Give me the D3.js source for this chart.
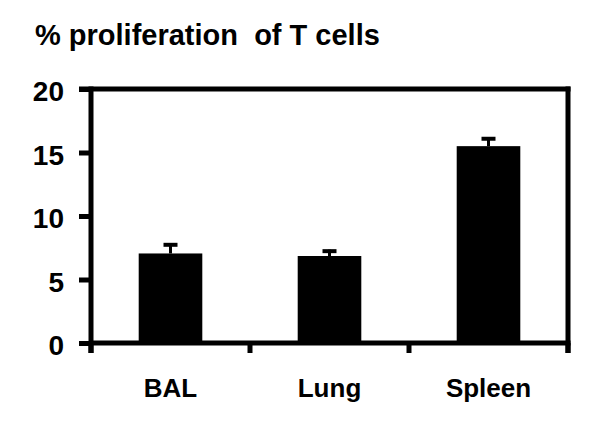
<!DOCTYPE html>
<html>
<head>
<meta charset="utf-8">
<script src="https://cdn.jsdelivr.net/npm/d3@7"></script>
<style>
  body { margin: 0; background: #fff; }
  text { font-family: "Liberation Sans", Arial, sans-serif; font-weight: bold; fill: #000; }
</style>
</head>
<body>
<script>

var width = 600,
  height = 424;

// data
var categories = ["BAL", "Lung", "Spleen"];
var means = [7.05, 6.85, 15.5];
var errors = [0.8, 0.5, 0.7];
var yTicks = [0, 5, 10, 15, 20];

// plot box (note: "top" is taken by window.top)
var plotLeft = 91, plotRight = 568, plotTop = 89, plotBottom = 343;

var svg = d3.select("body").append("svg")
  .attr("width", width)
  .attr("height", height);

var x = d3.scaleBand()
  .domain(categories)
  .range([plotLeft, plotRight])
  .paddingInner(0.6)
  .paddingOuter(0.3);

var y = d3.scaleLinear()
  .domain([0, 20])
  .range([plotBottom, plotTop]);

var lw = 5;

// bars
svg.selectAll("rect.bar").data(means).enter().append("rect")
  .attr("class", "bar")
  .attr("x", function(d, i){return x(categories[i])})
  .attr("width", x.bandwidth())
  .attr("y", function(d){return y(d)})
  .attr("height", function(d){return y(0) - y(d)})
  .attr("fill", "#000");

// error bars (upper only)
var eb = svg.selectAll("g.err").data(means).enter().append("g").attr("class", "err");
eb.append("line")
  .attr("x1", function(d, i){return x(categories[i]) + x.bandwidth() / 2})
  .attr("x2", function(d, i){return x(categories[i]) + x.bandwidth() / 2})
  .attr("y1", function(d){return y(d)})
  .attr("y2", function(d, i){return y(d + errors[i])})
  .attr("stroke", "#000").attr("stroke-width", 3);
eb.append("line")
  .attr("x1", function(d, i){return x(categories[i]) + x.bandwidth() / 2 - 7})
  .attr("x2", function(d, i){return x(categories[i]) + x.bandwidth() / 2 + 7})
  .attr("y1", function(d, i){return y(d + errors[i]) + 1.5})
  .attr("y2", function(d, i){return y(d + errors[i]) + 1.5})
  .attr("stroke", "#000").attr("stroke-width", 4);

// y axis
var yAxis = svg.append("g")
  .attr("transform", "translate(" + plotLeft + ",0)")
  .call(d3.axisLeft(y).tickValues(yTicks).tickSize(12).tickSizeOuter(0).tickPadding(15));
yAxis.select(".domain").remove();
yAxis.selectAll(".tick line").attr("stroke", "#000").attr("stroke-width", lw);
yAxis.selectAll(".tick text")
  .style("font-size", "28px")
  .attr("dy", "0.42em");

// frame: left, right, top, bottom
var step = x.step();
var bounds = categories.map(function(c){return x(c) - step * x.paddingInner() / 2});
bounds.push(plotRight);

svg.append("line").attr("x1", plotLeft).attr("x2", plotLeft).attr("y1", plotTop - lw / 2).attr("y2", plotBottom + 10)
  .attr("stroke", "#000").attr("stroke-width", lw);
svg.append("line").attr("x1", plotRight).attr("x2", plotRight).attr("y1", plotTop - lw / 2).attr("y2", plotBottom + 10)
  .attr("stroke", "#000").attr("stroke-width", lw);
svg.append("line").attr("x1", plotLeft - 12).attr("x2", plotRight + lw / 2).attr("y1", plotTop).attr("y2", plotTop)
  .attr("stroke", "#000").attr("stroke-width", lw);
svg.append("line").attr("x1", plotLeft).attr("x2", plotRight + lw / 2).attr("y1", plotBottom).attr("y2", plotBottom)
  .attr("stroke", "#000").attr("stroke-width", lw);

// category boundary ticks
svg.selectAll("line.xtick").data(bounds).enter().append("line")
  .attr("class", "xtick")
  .attr("x1", function(d){return d}).attr("x2", function(d){return d})
  .attr("y1", plotBottom).attr("y2", plotBottom + 10)
  .attr("stroke", "#000").attr("stroke-width", lw);

// category labels
var xAxis = svg.append("g")
  .attr("transform", "translate(0," + plotBottom + ")")
  .call(d3.axisBottom(x).tickSize(0).tickPadding(36));
xAxis.select(".domain").remove();
xAxis.selectAll(".tick text").style("font-size", "26px");

// title
svg.append("text")
  .attr("x", 35)
  .attr("y", 45)
  .style("font-size", "29px")
  .attr("xml:space", "preserve")
  .text("% proliferation  of T cells");

</script>
</body>
</html>
